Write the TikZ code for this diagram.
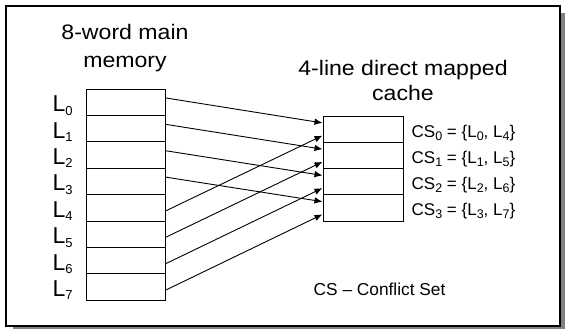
\documentclass[tikz,border=0pt]{standalone}
\usepackage{fontspec}
\setmainfont{Liberation Sans}
\newfontfamily\titlefont[FakeStretch=1.1]{Liberation Sans}
\usetikzlibrary{arrows.meta,calc}
\newcommand\bigL[1]{L\raisebox{-3.3pt}{\fontsize{13}{13}\selectfont #1}}
\newcommand\smsub[1]{\raisebox{-3pt}{\fontsize{12.5}{12.5}\selectfont #1}}
\begin{document}
\begin{tikzpicture}[x=1pt,y=-1pt,
  memrow/.style={draw,line width=1pt,minimum width=79pt,minimum height=26.4pt,inner sep=0pt},
  cacherow/.style={draw,line width=1pt,minimum width=80pt,minimum height=26.25pt,inner sep=0pt},
  arr/.style={line width=0.9pt,-{Latex[length=8pt,width=6.5pt]}},
  titletext/.style={inner sep=0pt,anchor=base,font=\titlefont\fontsize{21}{21}\selectfont},
  lbl/.style={inner sep=0pt,anchor=base west,font=\fontsize{23}{23}\selectfont},
  cslbl/.style={inner sep=0pt,anchor=base west,font=\fontsize{17}{17}\selectfont},
  note/.style={inner sep=0pt,anchor=base west,font=\fontsize{17.3}{17.3}\selectfont}]
\useasboundingbox (0,0) rectangle (565,329);
\fill[gray] (13,13) rectangle (565,329);
\draw[line width=1.5pt,fill=white] (6,6) rectangle (560,326);
% titles
\node[titletext] (t1a) at (125,40) {8-word main};
\node[titletext] (t1b) at (125,67.7) {memory};
\node[titletext] (t2a) at (403,75) {4-line direct mapped};
\node[titletext] (t2b) at (403,100.5) {cache};
% memory
\foreach \i in {0,...,7}{
  \node[memrow] (m\i) at (125.5,{89+26.4*\i+13.2}) {};
  \node[lbl] (l\i) at ($(m\i.center)+(-73.2,9.5)$) {\bigL{\i}};
}
% cache
\foreach \i in {0,...,3}{
  \node[cacherow] (c\i) at (363,{116+26.25*\i+13.125}) {};
}
\node[cslbl] (cs0) at ($(c0.center)+(48.5,8)$) {CS\smsub{0} = \{L\smsub{0}, L\smsub{4}\}};
\node[cslbl] (cs1) at ($(c1.center)+(48.5,8)$) {CS\smsub{1} = \{L\smsub{1}, L\smsub{5}\}};
\node[cslbl] (cs2) at ($(c2.center)+(48.5,8)$) {CS\smsub{2} = \{L\smsub{2}, L\smsub{6}\}};
\node[cslbl] (cs3) at ($(c3.center)+(48.5,8)$) {CS\smsub{3} = \{L\smsub{3}, L\smsub{7}\}};
% arrows
\foreach \i in {0,...,3}{
  \draw[arr] ([yshift=4.3pt]m\i.east) -- ([yshift=6.2pt]c\i.west);
}
\foreach \i/\j in {4/0,5/1,6/2,7/3}{
  \draw[arr] ([yshift=-3.2pt]m\i.east) -- ([yshift=-6.5pt]c\j.west);
}
\node[note] (cs) at (313.5,295) {CS – Conflict Set};
\end{tikzpicture}
\end{document}
